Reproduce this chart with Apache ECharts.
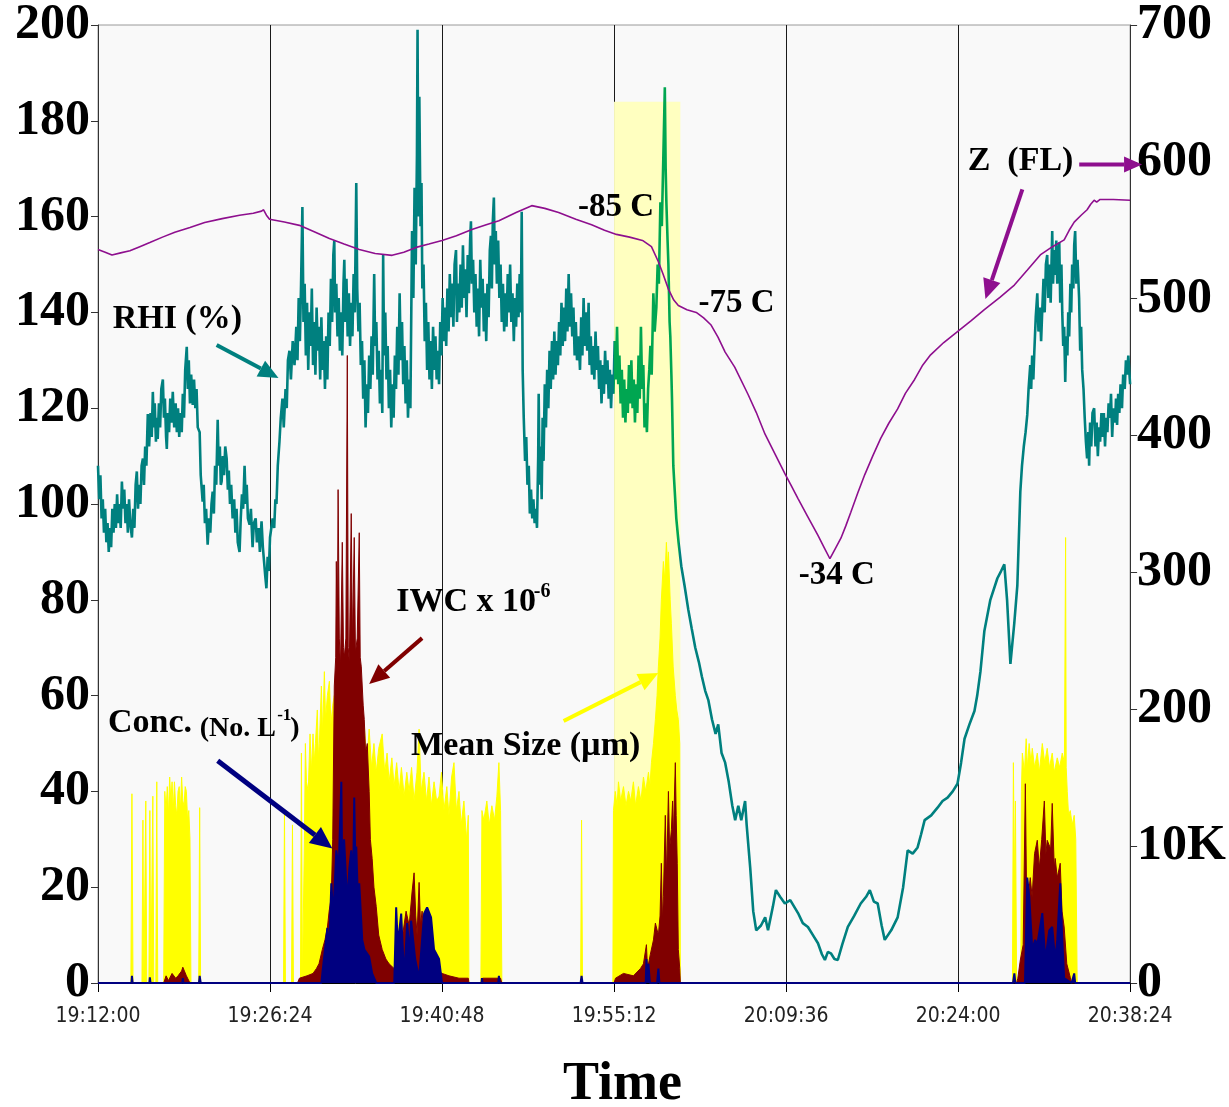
<!DOCTYPE html>
<html>
<head>
<meta charset="utf-8">
<script src="https://cdn.jsdelivr.net/npm/echarts@6/dist/echarts.min.js"></script>
<style>
html,body{margin:0;padding:0;background:#fff;}
#chart{width:1229px;height:1107px;}
</style>
</head>
<body>
<div id="chart"></div>
<script>
// ---------- DATA (time in minutes after 19:12:00) ----------
const xTickLabels = ['19:12:00','19:26:24','19:40:48','19:55:12','20:09:36','20:24:00','20:38:24'];
const rightTickLabels = ['0','10K','200','300','400','500','600','700'];
const highlightRange = [43.2, 48.75, 184];   // start min, end min, top (left axis)
const greenRange = [43.2, 48.6];

// RHI (%), left axis
const rhiData = [
[0,108],[0.1,101],[0.2,106],[0.3,97],[0.4,101],[0.5,94],[0.6,99],[0.7,92],[0.8,96],[0.9,90],[1.0,95],[1.1,91],[1.2,99],[1.3,94],[1.4,100],[1.5,95],[1.6,102],[1.7,96],[1.8,100],[1.9,95],[2.0,104.7],[2.1,99],[2.2,103],[2.3,96],[2.4,100],[2.5,94],[2.6,101],[2.7,96],[2.84,93],[2.95,99],[3.05,95],[3.15,104],[3.25,106.8],[3.35,99],[3.45,104],[3.55,100],[3.65,108],[3.76,109.5],[3.85,104],[3.95,112],[4.05,108],[4.17,118.8],[4.28,112],[4.4,119],[4.5,114],[4.59,123.4],[4.68,116],[4.75,121],[4.85,113],[4.92,118],[5.0,113.6],[5.1,121],[5.2,116],[5.3,124],[5.43,126],[5.52,118],[5.6,122],[5.7,114],[5.76,111.5],[5.85,119],[5.95,115],[6.05,122],[6.15,117],[6.26,123.4],[6.38,116],[6.5,121],[6.6,115],[6.7,120],[6.8,114],[6.9,119],[7.01,115],[7.1,123],[7.2,118],[7.3,128],[7.43,132.8],[7.52,124],[7.6,130],[7.7,121],[7.8,127],[7.93,120.7],[8.04,126],[8.15,120],[8.25,124],[8.35,116],[8.51,115],[8.6,106],[8.76,100.5],[8.85,104],[8.95,96],[9.05,99],[9.18,91.5],[9.3,97],[9.4,94],[9.5,100],[9.6,102.6],[9.7,98],[9.8,108],[9.9,104],[10.02,117.6],[10.1,108],[10.2,112],[10.28,104],[10.35,104.7],[10.45,110],[10.55,106],[10.65,112],[10.77,109.5],[10.87,103],[10.95,107],[11.05,100],[11.15,104],[11.27,97],[11.4,101],[11.5,94],[11.6,99],[11.7,92],[11.85,90],[11.95,97],[12.05,102],[12.15,99],[12.27,108],[12.37,100],[12.45,104],[12.55,97],[12.69,95.7],[12.8,99],[12.94,91],[13.05,96],[13.2,97],[13.3,92],[13.45,95],[13.55,90],[13.69,96.4],[13.8,91],[13.9,88],[14.0,85],[14.1,82.4],[14.2,89],[14.3,86],[14.4,93],[14.52,92.8],[14.62,97],[14.75,95],[14.85,101],[14.94,100],[15.05,108],[15.19,113],[15.3,118],[15.44,122],[15.55,116],[15.7,124],[15.8,120],[15.9,130],[16.03,132],[16.15,126],[16.3,134],[16.45,129],
[16.6,137],[16.7,130],[16.8,143],[16.9,134],[17.0,146],[17.11,162],[17.2,138],[17.3,146],[17.4,131],[17.5,142],[17.6,128],[17.7,140],[17.8,133],[17.9,145],[18.0,129],[18.1,138],[18.2,127],[18.3,141],[18.4,132],[18.5,137],[18.6,126],[18.7,139],[18.8,128],[18.9,134],[19.0,124],[19.1,135],[19.2,126],[19.3,140],[19.4,133],[19.5,147],[19.6,138],[19.7,152],[19.78,155],[19.85,140],[19.95,146],[20.05,135],[20.15,143],[20.25,132],[20.35,140],[20.45,131],[20.55,146],[20.62,151],[20.7,138],[20.8,147],[20.9,135],[21.0,144],[21.1,133],[21.2,142],[21.3,135],[21.4,148],[21.5,140],[21.62,167],[21.7,145],[21.8,136],[21.9,142],[22.0,129],[22.1,134],[22.2,122],[22.3,130],[22.4,116],[22.5,125],[22.6,119],[22.7,131],[22.8,124],[22.9,135],[23.0,127],[23.12,148],[23.2,133],[23.3,138],[23.4,126],[23.5,132],[23.6,121],[23.7,128],[23.8,119],[23.87,152],[23.95,131],[24.05,140],[24.15,126],[24.25,133],[24.35,120],[24.45,128],[24.55,116],[24.65,125],[24.75,118],[24.85,131],[24.95,124],[25.05,137],[25.15,127],[25.25,144],[25.35,130],[25.45,138],[25.55,125],[25.65,133],[25.75,121],[25.85,130],[25.95,118],[26.05,126],[26.15,120],[26.29,157],[26.4,143],[26.5,166],[26.6,150],[26.7,173],[26.75,199],[26.82,160],[26.9,185],[27.0,158],[27.08,167],[27.15,145],[27.25,150],[27.35,134],[27.45,142],[27.55,128],[27.65,138],[27.75,126],[27.85,134],[27.95,124],[28.05,137],[28.15,128],[28.25,135],[28.35,126],[28.45,132],[28.55,125],[28.65,138],[28.75,131],[28.85,143],[28.95,134],[29.05,141],[29.15,133],[29.25,145],[29.35,136],[29.45,148],[29.55,139],[29.65,146],[29.75,137],[29.85,150],[29.97,153],[30.05,138],[30.15,146],[30.25,140],[30.35,150],[30.45,141],[30.55,154],[30.65,143],[30.75,149],[30.85,139],[30.95,152],[31.05,144],[31.15,155],[31.22,159],[31.3,146],[31.4,151],[31.5,140],[31.6,148],[31.7,137],[31.8,145],[31.9,135],[32.0,151],[32.1,141],[32.2,147],[32.3,136],[32.4,144],[32.5,134],[32.6,146],[32.7,139],[32.8,153],[32.89,156],[32.97,145],[33.05,159],[33.14,164],[33.22,150],[33.3,157],[33.39,146],[33.5,155],[33.6,143],[33.7,150],[33.8,138],[33.9,146],[34.0,136],[34.1,144],[34.2,137],[34.3,148],[34.4,140],[34.5,150],[34.6,138],[34.7,144],[34.81,134],[34.9,143],[35.0,137],[35.1,146],[35.2,139],[35.3,148],[35.4,140],[35.47,161],[35.55,128],[35.64,118],[35.75,109],[35.85,114],[35.95,104],[36.06,108],[36.15,98],[36.25,103],[36.35,97],[36.45,101],[36.55,96],[36.64,99],[36.75,95],[36.85,110],[36.89,123],[36.97,104],[37.05,112],[37.14,101],[37.22,118],[37.3,109],[37.4,125],[37.5,116],[37.6,128],[37.7,120],[37.8,132],[37.9,124],[38.0,134],[38.1,126],[38.2,136],[38.3,127],[38.4,134],[38.5,129],[38.6,138],[38.7,131],[38.8,142],[38.9,133],[39.0,141],[39.1,134],[39.2,145],[39.3,136],[39.4,148],[39.5,137],[39.6,144],[39.7,135],[39.8,141],[39.9,131],[40.0,138],[40.1,130],[40.23,135],[40.35,128],[40.45,139],[40.55,131],[40.65,143],[40.75,133],[40.85,140],[40.95,132],[41.07,142],[41.15,129],[41.25,135],[41.35,127],[41.45,133],[41.55,126],[41.65,136],[41.75,128],[41.85,133],[41.95,124],[42.05,130],[42.15,121],[42.25,129],[42.35,123],[42.45,132],[42.55,125],[42.65,130],[42.75,122],[42.85,128],[42.95,120],[43.05,127],[43.15,123],[43.25,134],[43.35,126],[43.45,137],[43.55,125],[43.65,131],[43.75,121],[43.85,128],[43.95,118],[44.05,126],[44.15,117],[44.25,124],[44.35,119],[44.45,129],[44.55,121],[44.65,130],[44.75,120],[44.85,126],[44.95,117],[45.05,125],[45.15,119],[45.25,131],[45.35,122],[45.45,137],[45.55,124],[45.65,129],[45.75,116],[45.85,121],[45.95,115],[46.05,124],[46.15,128],[46.24,133],[46.35,127],[46.49,144],[46.6,136],[46.74,141],[46.85,150],[46.95,146],[47.08,163],[47.2,158],[47.33,173],[47.45,187],[47.52,170],[47.58,163],[47.68,155],[47.75,150],[47.85,138],[47.91,135],[48.0,127],[48.05,122],[48.16,108],
[48.41,97],[48.6,92],[48.83,87],[49.1,83],[49.41,78],[49.7,74],[50.0,70],[50.3,67],[50.55,64],[50.83,61],[51.1,59],[51.4,55],[51.7,52],[51.92,54],[52.2,48],[52.5,46],[52.8,42],[53.1,37],[53.34,34],[53.6,37],[53.85,34],[54.17,38],[54.3,33],[54.6,24],[54.85,15],[55.1,11],[55.5,12],[55.85,13.7],[56.09,11],[56.5,16],[56.75,19.4],[57.1,18],[57.5,16.6],[57.95,17.3],[58.6,14.6],[59.0,12.5],[59.43,11.7],[59.85,10],[60.27,8.3],[60.6,6],[60.85,4.8],[61.1,6.5],[61.35,6.2],[61.65,5],[61.93,4.8],[62.3,8],[62.77,11.7],[63.3,14],[63.85,16.6],[64.3,18],[64.61,19.4],[64.95,17],[65.27,16.6],[65.6,12],[65.86,9],[66.4,11],[66.94,13.7],[67.4,20],[67.78,27.7],[68.2,27],[68.61,28.3],[68.9,31],[69.2,34],[69.75,35],[70.28,36.6],[70.7,38],[71.12,38.7],[71.55,40],[71.95,41.6],[72.25,46],[72.54,51],[72.95,54],[73.37,56.8],[73.6,60],[73.87,65],[74.2,73.5],[74.7,80],[75.29,84.5],[75.6,86],[75.87,87.4],[76.1,80],[76.38,66.6],[76.7,75],[76.96,83],
[77.21,102.6],[77.35,108],[77.5,112],[77.65,115],[77.79,118.6],[77.9,124],[78.04,129],[78.12,124],[78.2,131],[78.3,126],[78.38,131.7],[78.5,139],[78.63,144],[78.73,136],[78.85,141],[78.95,134],[79.05,140.7],[79.15,147],[79.25,140],[79.35,150],[79.46,152],[79.55,143],[79.65,150],[79.75,142],[79.88,157],[79.95,146],[80.05,153],[80.13,147.8],[80.22,155],[80.3,146],[80.38,151],[80.47,154.6],[80.55,142],[80.65,150],[80.72,140],[80.8,133],[80.88,137],[80.97,125.5],[81.05,135],[81.15,131],[81.22,140],[81.3,135],[81.4,146],[81.47,140],[81.55,150],[81.65,145],[81.72,154],[81.8,157],[81.9,146],[82.0,151],[82.13,143],[82.22,132],[82.3,137],[82.39,128],[82.5,124],[82.6,118],[82.7,113],[82.8,109.5],[82.9,115],[82.97,108],[83.05,117],[83.15,112],[83.25,119],[83.39,120],[83.5,112],[83.6,117],[83.7,110],[83.8,116],[83.89,113],[84.0,119],[84.1,114],[84.2,119],[84.3,112],[84.4,118],[84.5,115],[84.6,121],[84.72,118],[84.8,123],[84.9,114],[85.0,120],[85.14,117],[85.22,122],[85.31,116.5],[85.4,123],[85.5,119],[85.6,125],[85.72,120],[85.82,127],[85.95,124],[86.05,130],[86.14,127],[86.25,131],[86.4,125]
];

// Z (FL), right axis
const zData = [
[0,536],[0.6,534],[1.17,532],[1.9,533.5],[2.67,535],[3.5,538],[4.34,541],[5.4,545],[6.43,548.5],[7.7,552],[8.93,555.7],[10.4,558.5],[11.85,561],[13.0,562.5],[13.69,564],[13.86,565],[14.1,561],[14.36,558],[15.6,556],[16.86,553.6],[18.1,549],[19.37,544],[20.6,540],[21.87,536],[23.2,533],[24.62,531.7],[25.6,534],[26.63,537.5],[27.7,540],[28.8,542.6],[30.0,546],[31.3,550.6],[32.5,554],[33.56,557],[35.0,563],[36.31,568],[37.4,566],[38.56,563],[40.0,558],[41.32,554],[42.4,550],[43.4,547],[44.5,545],[45.58,542.6],[46.33,538],[46.91,527],[47.3,518],[47.75,507],[48.2,499],[48.58,495],[49.3,492],[50.08,490],[50.7,486],[51.3,481],[51.9,472],[52.5,461],[53.3,450],[54.42,430],[55.1,417],[55.84,401],[56.7,386],[57.51,372],[58.0,364],[58.6,354],[59.4,341],[60.27,327],[60.8,318],[61.27,310],[61.7,317],[62.19,325],[62.6,334],[63.02,344],[63.6,358],[64.19,371.5],[64.85,385],[65.52,398],[66.2,409],[66.94,419.5],[67.6,431],[68.36,441],[69.0,451],[69.7,459],[70.8,468],[71.95,476],[73.1,484],[74.2,492],[75.5,501],[76.71,510],[77.8,521],[78.88,532],[79.9,538],[80.88,543],[81.3,550],[81.72,556],[82.3,561],[82.8,565],[83.1,569],[83.39,572],[83.6,570.5],[83.89,572.5],[85.0,572.5],[86.4,572]
];

// Mean Size (um), left axis
const sizeData = [
[0,0],[2.75,0],[2.84,39.5],[2.93,0],[3.68,0],[3.76,34],[3.84,0],[3.93,0],[4.0,38],[4.08,0],[4.26,0],[4.34,36],[4.42,0],[4.51,0],[4.59,39],[4.67,0],[4.84,0],[4.92,42],[5.0,0],[5.5,0],[5.59,40],[5.7,36],[5.8,41],[5.9,35],[6.0,43],[6.1,38],[6.2,42],[6.3,36],[6.4,42],[6.5,37],[6.6,35],[6.7,40],[6.8,41],[6.9,36],[7.0,43],[7.1,38],[7.2,37],[7.3,41],[7.4,40],[7.5,34],[7.6,36],[7.7,30],[7.78,0],[8.43,0],[8.51,36.6],[8.59,0],
[15.53,0],[15.61,36],[15.69,0],[16.2,0],[16.28,33],[16.36,0],[16.95,0],[17.03,48],[17.11,0],[17.2,0],[17.28,30],[17.36,50],[17.45,42],[17.6,40],[17.75,52],[17.86,44],[18.0,52],[18.1,46],[18.2,50],[18.36,57],[18.45,47],[18.53,50],[18.7,62],[18.8,52],[18.95,65],[19.05,55],[19.2,60],[19.37,63],[19.5,54],[19.65,58],[19.78,60],[20.0,56],[20.2,58],[20.4,52],[20.62,56],[20.8,50],[21.04,55],[21.25,49],[21.45,54],[21.65,50],[21.87,53],[22.1,48],[22.29,54],[22.5,46],[22.7,53],[22.9,45],[23.1,50],[23.29,44],[23.5,49],[23.79,52],[24.0,44],[24.2,48],[24.37,42],[24.6,47],[24.79,41],[25.0,46],[25.21,40],[25.4,45],[25.63,39],[25.85,44],[26.04,40],[26.25,45],[26.46,38],[26.7,44],[26.88,53],[27.05,40],[27.29,44],[27.5,38],[27.71,43],[27.9,37],[28.13,42],[28.35,38],[28.55,39],[28.75,44],[28.96,36],[29.2,41],[29.38,35],[29.6,43],[29.8,46],[30.0,36],[30.22,40],[30.4,33],[30.63,38],[30.85,30],[31.0,35],[31.05,0],[32.05,0],[32.14,36],[32.3,34],[32.55,38],[32.75,33],[32.97,37],[33.2,34],[33.39,39],[33.56,46],[33.7,36],[33.81,0],
[40.4,0],[40.48,34],[40.56,0],
[43.1,0],[43.15,36],[43.3,40],[43.45,37],[43.57,42],[43.75,38],[43.99,41],[44.2,37],[44.41,40],[44.6,38],[44.82,42],[45.0,37],[45.24,41],[45.45,38],[45.66,43],[45.85,40],[46.08,44],[46.2,41],[46.33,46],[46.5,50],[46.66,55],[46.8,60],[46.91,66],[47.05,72],[47.16,80],[47.33,88],[47.45,84],[47.58,92],[47.7,86],[47.75,90],[47.9,80],[48.0,75],[48.15,66],[48.33,60],[48.45,57],[48.58,55],[48.7,50],[48.75,0],
[76.55,0],[76.63,46],[76.72,20],[76.8,38],[76.9,0],[77.25,0],[77.3,40],[77.38,48],[77.55,44],[77.7,51],[77.8,45],[77.95,50],[78.1,46],[78.21,49],[78.4,45],[78.63,48],[78.8,44],[79.05,50],[79.25,46],[79.46,49],[79.65,45],[79.88,48],[80.05,44],[80.3,47],[80.5,45],[80.72,48],[80.9,46],[81.0,93],[81.05,45],[81.14,40],[81.25,35],[81.39,36],[81.55,33],[81.72,35],[81.85,30],[81.97,0],[86.4,0]
];

// IWC x 10^-6, left axis
const iwcData = [
[0,0],[5.5,0],[5.7,1.5],[5.9,0.5],[6.2,2],[6.5,1],[6.7,1.5],[7.0,2.5],[7.1,3.3],[7.4,1.5],[7.7,0],
[16.7,0],[16.86,1],[17.5,1.5],[18.0,2],[18.28,3],[18.5,4],[18.78,7],[19.0,9],[19.2,11.5],[19.35,15],[19.53,18],[19.65,30],[19.78,62],[19.9,68],[19.95,88],[20.03,70],[20.1,103],[20.2,72],[20.3,66],[20.45,92],[20.55,70],[20.62,68],[20.75,72],[20.87,131],[20.95,70],[21.04,67],[21.2,98],[21.3,71],[21.45,93],[21.55,69],[21.7,72],[21.87,94],[21.95,68],[22.04,66],[22.2,58],[22.29,55],[22.4,48],[22.54,50],[22.7,40],[22.8,30],[22.95,26],[23.1,20],[23.29,16],[23.5,10],[23.79,7],[24.1,5],[24.37,4],[24.8,3],[25.21,7],[25.5,10],[25.79,15],[26.05,12],[26.29,19],[26.46,23],[26.6,14],[26.71,10],[26.88,21],[27.0,12],[27.13,15],[27.3,9],[27.46,10],[27.7,5],[27.88,7],[28.1,3],[28.3,2.7],[28.8,2],[29.38,1.5],[30.22,1],[31.0,1],[31.05,0],[32.1,0],[32.2,1],[33.7,1],[33.8,0],
[43.2,0],[43.32,1],[43.99,2],[44.82,1.5],[45.4,3],[45.66,4],[45.91,8],[46.0,3],[46.24,6],[46.5,9],[46.66,12.5],[46.91,10],[47.05,14],[47.16,25],[47.25,13],[47.33,18],[47.49,35],[47.6,22],[47.75,40],[47.85,28],[48.0,32],[48.1,38],[48.16,30],[48.33,46],[48.4,35],[48.49,25],[48.58,7],[48.7,3],[48.75,0],
[76.9,0],[77.0,1],[77.21,4.8],[77.45,8],[77.63,41.6],[77.75,15],[78.04,22],[78.2,18],[78.4,27],[78.63,29.8],[78.8,24],[79.0,30],[79.22,38],[79.35,27],[79.46,29.8],[79.6,30],[79.75,28],[79.88,37.5],[80.05,24],[80.13,26],[80.3,22],[80.55,25],[80.7,15],[80.88,11.7],[81.1,4],[81.39,1.2],[81.5,0],[86.4,0]
];

// Conc. (No. L^-1), left axis
const concData = [
[0,0],[2.8,0],[2.84,1.5],[2.9,0],[4.3,0],[4.34,1.2],[4.4,0],[7.05,0],[7.1,1],[7.15,0],[8.45,0],[8.51,1.5],[8.6,0],
[18.7,0],[18.78,2],[19.2,11.5],[19.35,6],[19.53,20.8],[19.7,14],[19.95,27.7],[20.15,24],[20.37,42],[20.45,22],[20.6,30],[20.87,16.6],[21.04,24],[21.2,27.7],[21.35,20],[21.45,38.7],[21.55,24],[21.62,28.5],[21.75,18],[21.87,20.8],[22.12,9],[22.3,7],[22.7,5.5],[22.95,2],[23.29,0],
[24.8,0],[24.96,15.8],[25.1,8],[25.38,14.5],[25.63,1],[25.88,12.5],[26.1,6],[26.21,13],[26.55,5],[26.88,1],[27.3,14.5],[27.55,15.8],[27.88,13.7],[28.13,7],[28.55,5],[28.8,0],
[32.1,0],[32.14,1],[32.2,0],[33.5,0],[33.56,1.5],[33.62,0],[40.4,0],[40.48,1.5],[40.56,0],[45.85,0],[45.91,5],[46.0,1],[46.08,4],[46.2,0],[46.8,0],[46.91,3],[47.0,0],
[76.6,0],[76.71,2],[76.8,0],[77.6,0],[77.79,22],[77.96,18],[78.21,7],[78.45,9],[78.63,8],[79.05,14.6],[79.3,4.8],[79.63,11],[79.88,11.7],[80.13,4.8],[80.3,9],[80.55,20.8],[80.72,9],[80.88,1],[81.5,0],[81.72,2],[81.8,0],[86.4,0]
];

// ---------- CHART ----------
const S = 60; // minutes -> seconds on the axis
const toSec = arr => arr.map(p => [p[0] * S, p[1]]);
const SERIF = '"Liberation Serif","Times New Roman",serif';
const teal = '#00807f', green = '#00a651', purple = '#8e0f8e', maroon = '#800000', navy = '#000080', yellow = '#ffff00';

const chart = echarts.init(document.getElementById('chart'), null, {renderer: 'canvas'});

chart.setOption({
  animation: false,
  backgroundColor: '#ffffff',
  grid: {left: 98, right: 96, top: 22, bottom: 124, show: true, backgroundColor: '#f9f9f9', borderColor: '#9a9a9a', borderWidth: 1},
  xAxis: {
    type: 'value', min: 0, max: 5184, interval: 864,
    axisLine: {show: true, onZero: false, lineStyle: {color: '#000', width: 1}},
    axisTick: {show: true, length: 9, lineStyle: {color: '#000'}},
    axisLabel: {
      margin: 23, fontSize: 21, color: '#222',
      fontFamily: '"Liberation Sans Narrow","Arial Narrow","DejaVu Sans Condensed","Liberation Sans",sans-serif',
      formatter: v => xTickLabels[Math.round(v / 864)] || ''
    },
    splitLine: {show: true, lineStyle: {color: '#1a1a1a', width: 1}}
  },
  yAxis: [
    {
      type: 'value', min: 0, max: 200, interval: 20, position: 'left',
      axisLine: {show: true, lineStyle: {color: '#333', width: 1}},
      axisTick: {show: true, length: 7, lineStyle: {color: '#333'}},
      axisLabel: {margin: 8, fontSize: 50, fontWeight: 'bold', fontFamily: SERIF, color: '#000'},
      splitLine: {show: false}
    },
    {
      type: 'value', min: 0, max: 700, interval: 100, position: 'right',
      axisLine: {show: true, lineStyle: {color: '#333', width: 1}},
      axisTick: {show: true, length: 7, lineStyle: {color: '#333'}},
      axisLabel: {margin: 7, fontSize: 50, fontWeight: 'bold', fontFamily: SERIF, color: '#000',
        formatter: v => rightTickLabels[Math.round(v / 100)]},
      splitLine: {show: false}
    }
  ],
  visualMap: {
    type: 'piecewise', show: false, dimension: 0, seriesIndex: 4,
    pieces: [
      {lt: greenRange[0] * S, color: teal},
      {gte: greenRange[0] * S, lt: greenRange[1] * S, color: green},
      {gte: greenRange[1] * S, color: teal}
    ]
  },
  series: [
    {
      name: 'highlight', type: 'line', data: [], z: 1, silent: true,
      markArea: {silent: true, itemStyle: {color: '#ffffc0', opacity: 1},
        data: [[{xAxis: highlightRange[0] * S, yAxis: 0}, {xAxis: highlightRange[1] * S, yAxis: highlightRange[2]}]]}
    },
    {
      name: 'Mean Size', type: 'line', data: toSec(sizeData), z: 2, showSymbol: false, symbol: 'none',
      lineStyle: {color: yellow, width: 1}, areaStyle: {color: yellow, opacity: 1}, itemStyle: {color: yellow}
    },
    {
      name: 'IWC', type: 'line', data: toSec(iwcData), z: 3, showSymbol: false, symbol: 'none',
      lineStyle: {color: maroon, width: 1}, areaStyle: {color: maroon, opacity: 1}, itemStyle: {color: maroon}
    },
    {
      name: 'Conc', type: 'line', data: toSec(concData), z: 4, showSymbol: false, symbol: 'none',
      lineStyle: {color: navy, width: 2}, areaStyle: {color: navy, opacity: 1}, itemStyle: {color: navy}
    },
    {
      name: 'RHI', type: 'line', data: toSec(rhiData), z: 5, showSymbol: false, symbol: 'none',
      lineStyle: {width: 2.6}
    },
    {
      name: 'Z', type: 'line', yAxisIndex: 1, data: toSec(zData), z: 6, showSymbol: false, symbol: 'none',
      lineStyle: {color: purple, width: 1.6}, itemStyle: {color: purple}
    }
  ]
});

// ---------- ANNOTATIONS (placed in data coordinates: minutes, left-axis value) ----------
const P = (t, v) => chart.convertToPixel({seriesIndex: 4}, [t * S, v]);

function arrow(a, b, color, w, hl, hw) {
  const p1 = P(a[0], a[1]), p2 = P(b[0], b[1]);
  const dx = p2[0] - p1[0], dy = p2[1] - p1[1];
  const len = Math.hypot(dx, dy), ux = dx / len, uy = dy / len;
  const bx = p2[0] - ux * hl, by = p2[1] - uy * hl;
  const nx = -uy, ny = ux;
  return [
    {type: 'line', z: 100, shape: {x1: p1[0], y1: p1[1], x2: bx, y2: by}, style: {stroke: color, lineWidth: w}},
    {type: 'polygon', z: 100, shape: {points: [[p2[0], p2[1]], [bx + nx * hw, by + ny * hw], [bx - nx * hw, by - ny * hw]]}, style: {fill: color}}
  ];
}
function label(t, v, text, size, align) {
  const p = P(t, v);
  return {type: 'text', z: 101, x: p[0], y: p[1],
    style: {text: text, font: 'bold ' + size + 'px ' + SERIF, fill: '#000', align: align || 'center', verticalAlign: 'middle'}};
}

const g = [];
g.push(label(6.64, 138.6, 'RHI (%)', 34));
g.push(...arrow([9.93, 133.2], [15.11, 126.3], teal, 4, 20, 9));
g.push(label(24.96, 79.4, 'IWC x 10', 34, 'left'));
g.push(label(36.48, 81.6, '-6', 20, 'left'));
g.push(...arrow([27.13, 72.0], [22.7, 62.4], maroon, 4, 20, 9));
g.push(label(0.83, 54.3, 'Conc.', 34, 'left'));
g.push(label(8.52, 53.0, '(No. L', 28, 'left'));
g.push(label(15.0, 55.9, '-1', 17, 'left'));
g.push(label(16.1, 53.0, ')', 28, 'left'));
g.push(...arrow([10.02, 46.4], [19.62, 28.1], navy, 5, 22, 10));
g.push(label(26.21, 49.5, 'Mean Size (\u00b5m)', 34, 'left'));
g.push(...arrow([38.98, 54.7], [46.91, 64.7], yellow, 4, 20, 9));
g.push(label(72.8, 171.5, 'Z  (FL)', 34, 'left'));
g.push(...arrow([82.14, 170.9], [87.4, 170.9], purple, 4, 18, 8));
g.push(...arrow([77.38, 165.7], [74.29, 142.8], purple, 4, 20, 9));
g.push(label(43.36, 161.9, '-85 C', 33));
g.push(label(53.46, 141.8, '-75 C', 33));
g.push(label(61.85, 85.0, '-34 C', 33));
g.push(label(43.9, -21.2, 'Time', 54));

chart.setOption({graphic: g});
</script>
</body>
</html>
